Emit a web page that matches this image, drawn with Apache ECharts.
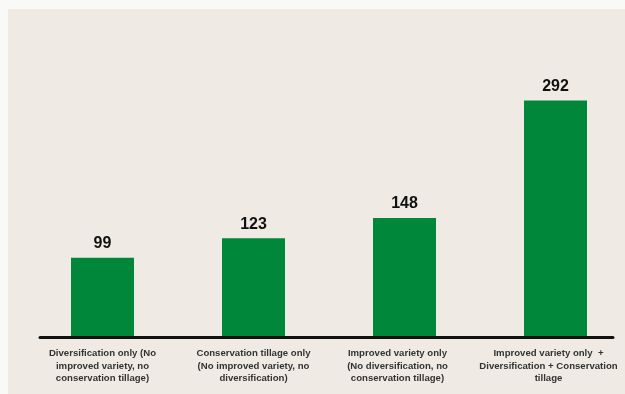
<!DOCTYPE html>
<html>
<head>
<meta charset="utf-8">
<script src="https://cdn.jsdelivr.net/npm/echarts@6/dist/echarts.min.js"></script>
<style>
html, body { margin: 0; padding: 0; background: #f9f9f8; }
#bg { position: absolute; left: 8px; top: 9px; width: 617px; height: 385px; background: #efebe4; }
#chart { position: absolute; left: 0; top: 0; width: 625px; height: 394px; }
</style>
</head>
<body>
<div id="bg"></div>
<div id="chart"></div>
<script>
var categories = [
  "Diversification only (No\nimproved variety, no\nconservation tillage)",
  "Conservation tillage only\n(No improved variety, no\ndiversification)",
  "Improved variety only\n(No diversification, no\nconservation tillage)",
  "Improved variety only  +\nDiversification + Conservation\ntillage"
];
var values = [99, 123, 148, 292];

var font = "'Liberation Sans Narrow', 'Arial Narrow', 'Liberation Sans', Arial, sans-serif";
var labelStyle = { fontFamily: font, fontWeight: 'bold', fontSize: 9.6, lineHeight: 12.5, color: '#333333', align: 'center' };
var chart = echarts.init(document.getElementById('chart'), null, { renderer: 'canvas' });
chart.setOption({
  backgroundColor: 'transparent',
  animation: false,
  grid: [
    { left: 27, width: 604, top: 94, bottom: 55.5, containLabel: false, outerBoundsMode: 'none' },
    { left: 40, width: 573, top: 94, bottom: 57, containLabel: false, outerBoundsMode: 'none' }
  ],
  xAxis: [
    {
      type: 'category', gridIndex: 0, data: categories,
      axisLine: { show: false }, axisTick: { show: false },
      axisLabel: {
        interval: 0, margin: 9, fontFamily: font, fontWeight: 'bold',
        fontSize: 9.6, lineHeight: 12.5, color: '#333333', align: 'center',
        hideOverlap: false,
        formatter: function (v, i) {
          var key = i >= 2 ? 'r' : 'n';
          return v.split('\n').map(function (s) { return '{' + key + '|' + s + '}'; }).join('\n');
        },
        rich: {
          n: Object.assign({}, labelStyle),
          r: Object.assign({}, labelStyle, { padding: [0, 14, 0, 0] })
        }
      }
    },
    {
      type: 'category', gridIndex: 1, data: [''], z: 10,
      axisLine: { show: true, lineStyle: { color: '#111111', width: 3 } },
      axisTick: { show: false }, axisLabel: { show: false }
    }
  ],
  yAxis: [
    { type: 'value', gridIndex: 0, min: 0, max: 300, show: false, splitLine: { show: false } },
    { type: 'value', gridIndex: 1, min: 0, max: 300, show: false, splitLine: { show: false } }
  ],
  series: [{
    type: 'bar', xAxisIndex: 0, yAxisIndex: 0,
    data: values, barWidth: 63,
    itemStyle: { color: '#01873a' },
    label: {
      show: true, position: 'top', distance: 6,
      fontFamily: font, fontWeight: 'bold', fontSize: 16, color: '#111111'
    }
  }]
});
</script>
</body>
</html>
